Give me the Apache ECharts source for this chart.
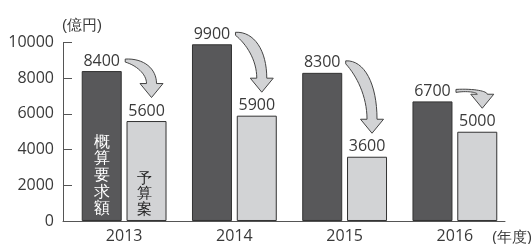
<!DOCTYPE html>
<html><head><meta charset="utf-8">
<script src="https://cdn.jsdelivr.net/npm/echarts@6/dist/echarts.min.js"></script>
<style>html,body{margin:0;padding:0;background:#fff}#c{width:531px;height:244px}</style>
</head><body><div id="c"></div>
<script>
const categories = ['2013', '2014', '2015', '2016'];
const requestValues = [8400, 9900, 8300, 6700];
const budgetValues = [5600, 5900, 3600, 5000];
const yMin = 0, yMax = 10000, yStep = 2000;
const requestText = '概算要求額';
const budgetText = '予算案';
const unitText = '(億円)';
const yearText = '(年度)';

const NUM_FONT = "'Open Sans', 'Noto Sans CJK JP', sans-serif";
const jpFont = px => px + 'px "Noto Sans CJK JP", sans-serif';
const TXT = '#3a3a3a';
const BAR_W = 40, GAP_PCT = 12;

const chart = echarts.init(document.getElementById('c'), null, {renderer: 'canvas'});
chart.setOption({
  animation: false,
  grid: [
    {left: 69, right: 21, top: 42.5, bottom: 23},
    {left: 63, right: 26, top: 42.5, bottom: 23}
  ],
  xAxis: [
    {type: 'category', gridIndex: 0, data: categories,
     axisLine: {show: false}, axisTick: {show: false},
     axisLabel: {fontSize: 16, color: TXT, fontFamily: NUM_FONT, margin: 7}},
    {type: 'value', gridIndex: 1, min: 0, max: 1,
     axisLine: {show: true, lineStyle: {color: '#555', width: 1}},
     axisTick: {show: false}, axisLabel: {show: false}, splitLine: {show: false}}
  ],
  yAxis: [
    {type: 'value', gridIndex: 0, min: yMin, max: yMax, show: false},
    {type: 'value', gridIndex: 1, min: yMin, max: yMax, interval: yStep,
     axisLine: {show: true, lineStyle: {color: '#555', width: 1}},
     axisTick: {show: true, inside: true, length: 9, lineStyle: {color: '#555'}},
     axisLabel: {fontSize: 16, color: TXT, fontFamily: NUM_FONT, margin: 9,
                 formatter: v => String(v)},
     splitLine: {show: false}}
  ],
  series: [
    {type: 'bar', xAxisIndex: 0, yAxisIndex: 0, data: requestValues,
     barWidth: BAR_W, barGap: GAP_PCT + '%',
     itemStyle: {color: '#58585a', borderColor: '#333', borderWidth: 1},
     label: {show: true, position: 'top', distance: 2, fontSize: 16, color: TXT, fontFamily: NUM_FONT}},
    {type: 'bar', xAxisIndex: 0, yAxisIndex: 0, data: budgetValues,
     barWidth: BAR_W, barGap: GAP_PCT + '%',
     itemStyle: {color: '#d2d3d5', borderColor: '#333', borderWidth: 1},
     label: {show: true, position: 'top', distance: 2, fontSize: 16, color: TXT, fontFamily: NUM_FONT}}
  ]
});

function bez(p0, p1, p2, p3, n) {
  const pts = [];
  for (let i = 0; i <= n; i++) {
    const t = i / n, u = 1 - t;
    pts.push([
      u*u*u*p0[0] + 3*u*u*t*p1[0] + 3*u*t*t*p2[0] + t*t*t*p3[0],
      u*u*u*p0[1] + 3*u*u*t*p1[1] + 3*u*t*t*p2[1] + t*t*t*p3[1]
    ]);
  }
  return pts;
}

const half = (BAR_W + BAR_W * GAP_PCT / 100) / 2;
const graphics = [];
categories.forEach((c, i) => {
  const pr = chart.convertToPixel({xAxisIndex: 0, yAxisIndex: 0}, [c, requestValues[i]]);
  const pb = chart.convertToPixel({xAxisIndex: 0, yAxisIndex: 0}, [c, budgetValues[i]]);
  const tail = [pr[0] - half + 23.5, pr[1] - 12];
  const hx = pb[0] + half + 5, hy = pb[1] - 23.5;
  const by = hy - 14;
  const ox = hx + 5, ix = hx - 5;
  const dy = by - tail[1];
  const outer = bez(tail, [tail[0] + 0.6 * (ox - tail[0]), tail[1] - 1], [ox, tail[1] + 0.4 * dy], [ox, by], 16);
  const inner = bez([ix, by], [ix, by - 0.4 * dy], [tail[0] + 0.5 * (ix - tail[0]), tail[1] + 0.25 * dy], [tail[0], tail[1] + 3], 16);
  const pts = outer.concat([[hx + 11.5, by], [hx, hy], [hx - 11.5, by]], inner);
  graphics.push({type: 'polygon', shape: {points: pts}, z: 10,
    style: {fill: '#d2d3d5', stroke: '#444', lineWidth: 1}});
});

// vertical in-bar captions on the first category
const z0 = chart.convertToPixel({xAxisIndex: 0, yAxisIndex: 0}, [categories[0], 0]);
graphics.push({type: 'text', x: z0[0] - half, y: z0[1] - 4, z: 10,
  style: {text: requestText.split('').join('\n'), font: jpFont(16), fontSize: 16, lineHeight: 16.6,
          fill: '#fff', align: 'center', verticalAlign: 'bottom'}});
graphics.push({type: 'text', x: z0[0] + half - 2, y: z0[1] - 4, z: 10,
  style: {text: budgetText.split('').join('\n'), font: jpFont(15), fontSize: 15, lineHeight: 15.2,
          fill: '#222', align: 'center', verticalAlign: 'bottom'}});

graphics.push({type: 'text', x: 62, y: 26, z: 10,
  style: {text: unitText, font: jpFont(15), fontSize: 15, fill: TXT, align: 'left', verticalAlign: 'middle'}});
graphics.push({type: 'text', x: 492, y: 238, z: 10,
  style: {text: yearText, font: jpFont(15), fontSize: 15, fill: TXT, align: 'left', verticalAlign: 'middle'}});
chart.setOption({graphic: graphics});
</script>
</body></html>
